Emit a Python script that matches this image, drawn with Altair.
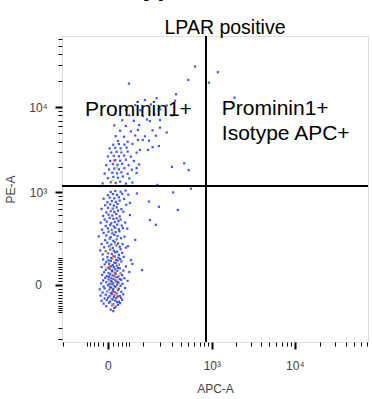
import altair as alt
import pandas as pd

# ---------------- data (APC-A, PE-A) ----------------
dense_pts = [
    (5,-88),(12,-80),(10,-95),
    (-3,-72),(8,-68),(15,-74),(20,-66),
    (-8,-61),(2,-57),(10,-63),(18,-55),(25,-59),
    (-12,-50),(-2,-47),(4,-52),(9,-45),(14,-49),(22,-53),(30,-46),
    (-6,-41),(0,-38),(6,-43),(11,-36),(16,-40),(19,-34),(27,-39),
    (-14,-31),(-4,-28),(3,-33),(7,-26),(12,-30),(17,-24),(24,-32),(33,-27),
    (-10,-21),(-1,-18),(5,-23),(9,-16),(13,-20),(20,-14),(28,-19),
    (-16,-12),(-6,-9),(2,-13),(6,-7),(10,-11),(15,-5),(22,-10),(38,-8),
    (-8,-4),(0,-1),(4,-6),(8,2),(12,-3),(18,1),(26,-2),
    (-13,4),(-3,7),(3,2),(7,9),(11,5),(16,11),(21,6),(31,3),
    (-9,12),(1,15),(5,10),(10,17),(14,13),(19,8),(28,14),(45,11),
    (-5,20),(2,23),(6,18),(12,25),(17,21),(24,16),(36,19),
    (-11,29),(-2,25),(4,31),(9,27),(15,33),(21,24),(30,28),
    (-7,38),(1,35),(7,41),(13,37),(18,43),(26,34),(50,39),
    (-4,47),(3,51),(8,45),(14,49),(20,54),(33,44),
    (-12,58),(0,55),(6,61),(11,57),(17,63),(24,53),(40,60),
    (-6,69),(2,72),(9,66),(15,75),(22,68),(60,71),
    (-3,80),(5,84),(12,77),(19,86),(28,82),
    (-9,92),(1,88),(8,96),(16,90),(25,94),
    (-1,103),(6,99),(13,107),(21,101),(34,105),
]
column_pts = [
    (-10,118),(0,125),(7,121),(14,130),(22,116),(30,127),
    (-15,142),(-4,137),(4,148),(11,140),(18,135),(26,150),
    (-7,162),(2,170),(9,158),(16,175),(24,166),(40,160),
    (-12,186),(-1,195),(6,182),(13,198),(20,190),(31,185),
    (-5,215),(3,228),(10,210),(17,222),(27,232),(70,218),
    (-18,248),(-3,256),(5,242),(12,262),(19,251),(36,245),
    (-8,280),(1,292),(8,276),(15,288),(23,297),
    (-11,315),(0,328),(7,310),(14,335),(22,318),(44,325),
    (-4,355),(4,368),(11,350),(18,372),(29,360),
    (-14,395),(-2,410),(6,388),(13,405),(21,415),(38,398),
    (-6,440),(3,462),(10,448),(17,455),(26,438),
    (-9,492),(1,510),(8,498),(16,520),(24,485),(52,505),
    (-3,548),(5,570),(12,555),(20,578),(33,560),
    (-12,610),(0,630),(9,615),(17,640),(28,605),
    (-5,680),(4,700),(11,675),(19,710),(41,690),
    (-1,745),(7,770),(15,752),(24,780),
    (-8,825),(3,850),(12,835),(22,860),(35,820),
    (0,915),(9,945),(18,920),(30,950),(47,925),
    (5,1005),(14,1030),(26,1010),(39,1045),
]
upper_pts = [
    (-10,1280),(5,1320),(15,1295),(25,1340),(40,1270),(60,1310),
    (0,1480),(10,1530),(20,1495),(32,1550),(50,1470),
    (-6,1680),(8,1720),(18,1690),(28,1740),(45,1670),(75,1710),
    (2,1880),(12,1930),(22,1890),(36,1950),(58,1870),
    (-3,2120),(9,2180),(19,2140),(30,2200),(48,2110),(85,2160),
    (4,2380),(14,2430),(25,2390),(40,2450),(65,2370),
    (0,2680),(11,2730),(22,2690),(35,2750),(55,2670),
    (6,2980),(17,3040),(28,2990),(45,3060),(75,2970),
    (3,3330),(14,3390),(26,3340),(42,3400),
    (10,3680),(22,3740),(36,3690),(60,3760),
]
spread_pts = [
    (20,4050),(45,3980),(80,4180),(130,4100),(100,4180),
    (15,4620),(35,4550),(70,4700),(110,4600),(170,4680),
    (25,5350),(55,5250),(80,5450),(150,5400),(250,5100),
    (12,6150),(40,6050),(85,6200),(135,6900),(198,5800),
    (30,7050),(65,6950),(120,7200),(198,7100),
    (50,8050),(100,7900),(160,8200),(300,8000),
    (40,9300),(90,9200),(200,9400),
    (70,10500),(140,10700),(250,10400),
    (110,12000),(175,12600),(330,11800),
]
outlier_pts = [
    (297,2020),(440,2230),(505,1850),(180,1225),(540,1100),(310,990),
    (130,760),(190,650),(360,590),(135,430),(170,370),(76,960),(52,730),
    (46,170),(97,46),(55,89),(32,330),(75,1950),(88,3200),(125,3200),
    (150,3450),(190,3550),
    (612,29000),(500,20400),(49,18500),(340,14000),(1190,25000),
    (920,19000),(1900,12800),
]
mid_density_pts = [
    (5,-45),(12,-25),(18,-8),(2,8),(9,22),(15,40),(-3,55),(20,70),(7,-60),
    (13,5),(24,30),(0,-15),(10,95),(4,160),(16,210),(9,300),(22,450),(6,600),
    (13,180),(-2,130),(18,2000),(8,1400),(28,3100),(11,-70),(17,15),
]
high_density_pts = [(8,-20),(14,35),(3,60),(19,-35),(12,2400),(10,110)]

# gates and quadrant labels (data units)
gate_apc = 845
gate_pe = 1190
label_apc = [-55, 1330]
label_pe = [7900, 8100]
label_text = ["Prominin1+", "Prominin1+\nIsotype APC+"]

x_ticks = [-150, -50, -40, -30, -20, -10, 0, 10, 20, 30, 40, 50,
           100, 200, 300, 400, 500, 600, 700, 800, 900, 1000,
           2000, 3000, 4000, 5000, 6000, 7000, 8000, 9000, 10000,
           20000, 30000, 40000, 50000, 60000, 70000]
y_ticks = [-300, -200, -100, -90, -80, -70, -60, -50, -40, -30, -20, -10, 0,
           10, 20, 30, 40, 50, 60, 70, 80, 90, 100,
           200, 300, 400, 500, 600, 700, 800, 900, 1000,
           2000, 3000, 4000, 5000, 6000, 7000, 8000, 9000, 10000,
           20000, 30000, 40000, 50000, 60000]

# ---------------- build tables ----------------
rows = []
for grp in (dense_pts, column_pts, upper_pts, spread_pts, outlier_pts):
    for a, p in grp:
        rows.append({"apc": a, "pe": p, "density": "low"})
for a, p in mid_density_pts:
    rows.append({"apc": a, "pe": p, "density": "mid"})
for a, p in high_density_pts:
    rows.append({"apc": a, "pe": p, "density": "high"})
events = pd.DataFrame(rows)
events["order"] = events["density"].map({"low": 0, "mid": 1, "high": 2})

labels = pd.DataFrame({"apc": label_apc, "pe": label_pe, "text": label_text})

FONT = "Liberation Sans"
xscale = alt.Scale(type="symlog", constant=64, domain=[-158, 72800], nice=False, zero=False)
yscale = alt.Scale(type="symlog", constant=97, domain=[-333, 64400], nice=False, zero=False)

major = "datum.value == 0 || datum.value == 1000 || datum.value == 10000"
lab = "datum.value == 0 ? '0' : datum.value == 1000 ? '10³' : datum.value == 10000 ? '10⁴' : ''"

x_axis = alt.Axis(
    values=x_ticks, tickCount=500, labelExpr=lab, grid=False, domain=False,
    tickColor="black",
    tickSize={"condition": {"test": major, "value": 7}, "value": 4},
    tickWidth={"condition": {"test": major, "value": 2}, "value": 1},
    labelOverlap=False, labelBound=False, labelFlush=False,
    labelFont=FONT, labelFontSize=12, labelColor="#444", labelPadding=11,
    title="APC-A", titleFont=FONT, titleFontSize=12, titleColor="#444",
    titleFontWeight="normal", titlePadding=12,
)
y_axis = alt.Axis(
    values=y_ticks, tickCount=500, labelExpr=lab, grid=False, domain=False,
    tickColor="black",
    tickSize={"condition": {"test": major, "value": 7}, "value": 4},
    tickWidth={"condition": {"test": major, "value": 2}, "value": 1},
    labelOverlap=False, labelBound=False, labelFlush=False,
    labelAlign="center", labelBaseline="middle", labelAngle=0,
    labelFont=FONT, labelFontSize=12, labelColor="#444", labelPadding=17,
    title="PE-A", titleFont=FONT, titleFontSize=12, titleColor="#444",
    titleFontWeight="normal", titlePadding=11,
)

points = alt.Chart(events).mark_square(size=5, opacity=0.9).encode(
    x=alt.X("apc:Q", scale=xscale, axis=x_axis),
    y=alt.Y("pe:Q", scale=yscale, axis=y_axis),
    color=alt.Color("density:N", legend=None,
                    scale=alt.Scale(domain=["low", "mid", "high"],
                                    range=["#2a45ff", "#ffc629", "#ff3b1f"])),
    order=alt.Order("order:Q"),
)

vgate = alt.Chart().mark_rule(color="black", strokeWidth=2).encode(
    x=alt.X(datum=gate_apc, type="quantitative", scale=xscale))
hgate = alt.Chart().mark_rule(color="black", strokeWidth=2).encode(
    y=alt.Y(datum=gate_pe, type="quantitative", scale=yscale))

quad_text = alt.Chart(labels).mark_text(
    align="left", baseline="alphabetic", font=FONT, fontSize=21,
    lineBreak="\n", lineHeight=25, color="black",
).encode(
    x=alt.X("apc:Q", scale=xscale),
    y=alt.Y("pe:Q", scale=yscale),
    text="text:N",
)

title_text = alt.Chart().mark_text(
    align="center", baseline="alphabetic", font=FONT, fontSize=19.5,
    color="black",
).encode(x=alt.value(163), y=alt.value(-2), text=alt.value("LPAR positive"))

heading = alt.Chart().mark_text(
    align="center", baseline="alphabetic", font=FONT, fontSize=26,
    fontWeight="bold", color="black",
).encode(x=alt.value(80), y=alt.value(-40.5), text=alt.value("Isotype"))

chart = alt.layer(points, vgate, hgate, quad_text, title_text, heading).properties(
    width=306, height=306,
    autosize=alt.AutoSizeParams(type="none"),
    padding={"left": 62, "top": 36, "right": 4, "bottom": 57},
).configure_view(stroke="black", strokeWidth=1.5).configure(background="white")

chart.save("out.html", embed_options={"renderer": "svg", "actions": False})
